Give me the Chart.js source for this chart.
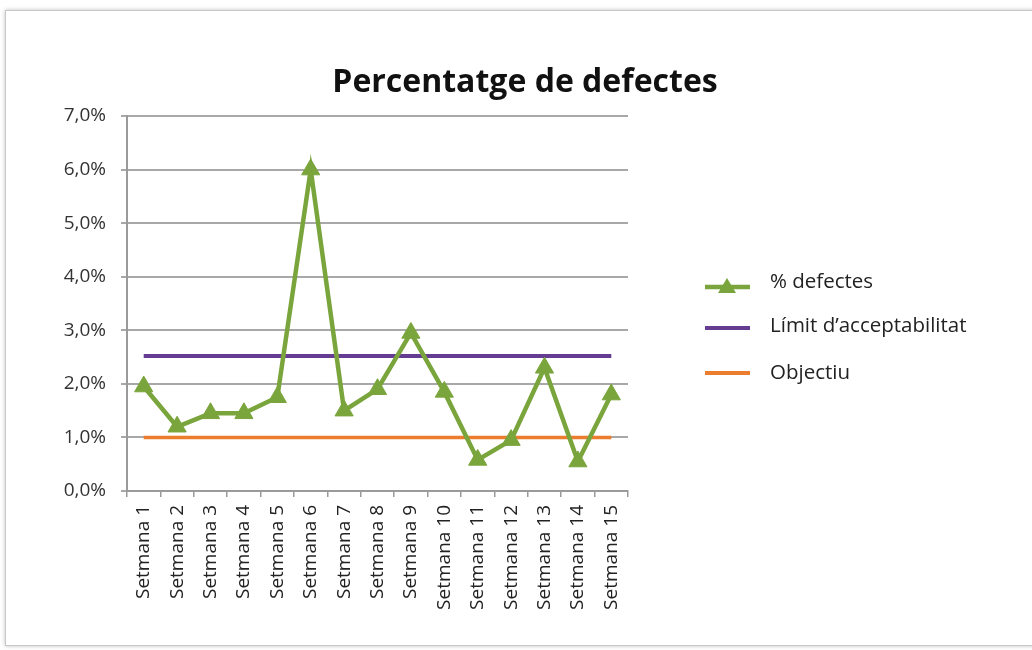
<!DOCTYPE html>
<html>
<head>
<meta charset="utf-8">
<script src="https://cdn.jsdelivr.net/npm/chart.js@4/dist/chart.umd.min.js"></script>
<style>
  html, body { margin: 0; padding: 0; background: #ffffff; }
  #wrap { position: relative; width: 1032px; height: 650px; overflow: hidden; background: #fff; }
  #frame { position: absolute; left: 5px; top: 10px; width: 1040px; height: 634px;
           border: 1px solid #c8c8c8; box-shadow: 0 0 4px rgba(0,0,0,0.25); background: #fff; }
  canvas { position: absolute; left: 0; top: 0; }
</style>
</head>
<body>
<div id="wrap">
  <div id="frame"></div>
  <canvas id="c" width="1032" height="650"></canvas>
</div>
<script>
const titleText = 'Percentatge de defectes';
const categories = ['Setmana 1','Setmana 2','Setmana 3','Setmana 4','Setmana 5','Setmana 6','Setmana 7','Setmana 8',
  'Setmana 9','Setmana 10','Setmana 11','Setmana 12','Setmana 13','Setmana 14','Setmana 15'];
const defectes = [1.95, 1.2, 1.45, 1.45, 1.75, 6.0, 1.5, 1.9, 2.95, 1.85, 0.58, 0.95, 2.3, 0.55, 1.8];
const limit = [2.52, 2.52, 2.52, 2.52, 2.52, 2.52, 2.52, 2.52, 2.52, 2.52, 2.52, 2.52, 2.52, 2.52, 2.52];
const objectiu = [1.0, 1.0, 1.0, 1.0, 1.0, 1.0, 1.0, 1.0, 1.0, 1.0, 1.0, 1.0, 1.0, 1.0, 1.0];
const seriesNames = ['% defectes', 'Límit d\u2019acceptabilitat', 'Objectiu'];
const yMin = 0, yMax = 7, yStep = 1;

const GREEN = '#7AA53C', PURPLE = '#643C91', ORANGE = '#EC7D2E';
const FONT = '"Open Sans", "Noto Sans", sans-serif';

const overlay = {
  id: 'overlay',
  afterDraw(chart) {
    const ctx = chart.ctx;
    ctx.save();
    ctx.fillStyle = '#111';
    ctx.font = 'bold 32px ' + FONT;
    ctx.textAlign = 'center';
    ctx.textBaseline = 'alphabetic';
    ctx.fillText(titleText, 525, 92);

    const items = [
      {y: 287, ty: 282, color: GREEN, w: 4.5, marker: true},
      {y: 328, ty: 326, color: PURPLE, w: 4, marker: false},
      {y: 373, ty: 373, color: ORANGE, w: 4, marker: false}
    ];
    ctx.font = '20.5px ' + FONT;
    ctx.textAlign = 'left';
    ctx.textBaseline = 'middle';
    items.forEach((it, i) => {
      ctx.strokeStyle = it.color;
      ctx.lineWidth = it.w;
      ctx.beginPath();
      ctx.moveTo(705, it.y);
      ctx.lineTo(750, it.y);
      ctx.stroke();
      if (it.marker) {
        ctx.fillStyle = it.color;
        ctx.beginPath();
        ctx.moveTo(727, it.y - 9);
        ctx.lineTo(736, it.y + 6);
        ctx.lineTo(718, it.y + 6);
        ctx.closePath();
        ctx.fill();
      }
      ctx.fillStyle = '#222';
      ctx.fillText(seriesNames[i], 770, it.ty);
    });
    ctx.restore();
  }
};

new Chart(document.getElementById('c'), {
  type: 'line',
  data: {
    labels: categories,
    datasets: [
      { label: seriesNames[1], data: limit, borderColor: PURPLE, borderWidth: 4, pointRadius: 0, order: 2 },
      { label: seriesNames[2], data: objectiu, borderColor: ORANGE, borderWidth: 3.5, pointRadius: 0, order: 3 },
      { label: seriesNames[0], data: defectes, borderColor: GREEN, backgroundColor: GREEN, borderWidth: 4.5,
        pointStyle: 'triangle', pointRadius: 10.5, pointBorderWidth: 1, pointBackgroundColor: GREEN,
        pointBorderColor: GREEN, order: 1 }
    ]
  },
  options: {
    responsive: false,
    animation: false,
    devicePixelRatio: 1,
    layout: { padding: { left: 0, right: 404, top: 116, bottom: 0 } },
    plugins: { legend: { display: false }, title: { display: false }, tooltip: { enabled: false } },
    elements: { line: { tension: 0 } },
    scales: {
      x: {
        offset: true,
        grid: { offset: true, drawOnChartArea: false, drawTicks: true, tickLength: 6, color: '#9a9a9a', lineWidth: 1.5 },
        border: { color: '#9a9a9a', width: 2 },
        ticks: { minRotation: 90, maxRotation: 90, autoSkip: false, padding: 8, color: '#222',
                 font: { family: FONT, size: 19 } },
        afterFit(scale) { scale.height = 159; }
      },
      y: {
        min: yMin, max: yMax,
        ticks: { stepSize: yStep, padding: 15, color: '#333', font: { family: FONT, size: 19 },
                 callback: v => v.toFixed(1).replace('.', ',') + '%' },
        grid: { color: '#a8a8a8', lineWidth: 2, tickLength: 6, drawTicks: true },
        border: { color: '#9a9a9a', width: 2 },
        afterFit(scale) { scale.width = 127; }
      }
    }
  },
  plugins: [overlay]
});
</script>
</body>
</html>
